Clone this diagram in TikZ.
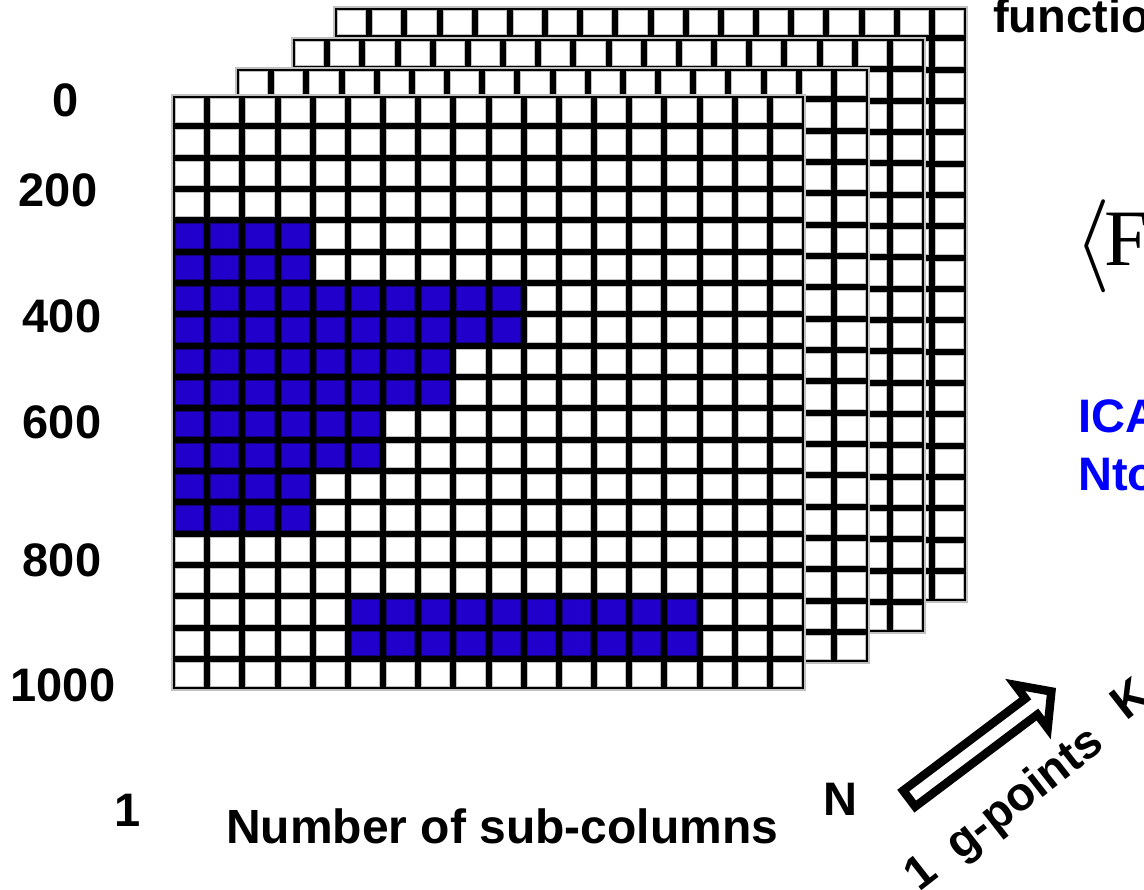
\documentclass[tikz,border=0pt]{standalone}
\usepackage{fix-cm}
\usepackage{fontspec}
\setmainfont{Liberation Sans}
\newfontfamily\serifF{Liberation Serif}
\usetikzlibrary{positioning}
\definecolor{cellBlue}{HTML}{2200CC}
\definecolor{textBlue}{HTML}{0000FF}
\definecolor{frameGray}{HTML}{C0C0C0}

\tikzset{
  whitecell/.style={fill=white, draw=frameGray, line width=0.8pt},
  bluecell/.style={fill=cellBlue, draw=cellBlue!60!black, line width=0.8pt},
  sheetframe/.style={draw=frameGray, line width=2.5pt},
  axislabel/.style={font=\fontsize{47}{50}\selectfont\bfseries, inner sep=0pt},
  bluelabel/.style={axislabel, text=textBlue},
  slantlabel/.style={axislabel, font=\fontsize{47}{50}\selectfont\bfseries, rotate=38, anchor=base west},
  hollowarrow/.style={draw=black, fill=white, line width=8.5pt, miter limit=10}
}

\begin{document}
\begin{tikzpicture}[x=1pt, y=-1pt]
  \useasboundingbox (0,0) rectangle (1144,890);
  \clip (0,0) rectangle (1144,890);
  \def\cw{35.17}
  \def\ch{31.32}
  % stacked sheets, back to front
  \foreach \sx/\sy in {334/7, 292/38, 236/68, 172/95} {
    \fill[black] (\sx,\sy) rectangle ++(633,595);
    \foreach \c in {0,...,17}
      \foreach \r in {0,...,18}
        \filldraw[whitecell] ({\sx+\c*\cw+3.5},{\sy+\r*\ch+3.5}) rectangle ++({\cw-7},{\ch-7});
    \draw[sheetframe] (\sx,\sy) rectangle ++(633,595);
  }
  % filled cells of the front sheet: row/first col/last col
  \foreach \r/\a/\b in {5/1/4, 6/1/4, 7/1/10, 8/1/10, 9/1/8, 10/1/8,
                        11/1/6, 12/1/6, 13/1/4, 14/1/4, 17/6/15, 18/6/15}
    \foreach \c in {\a,...,\b}
      \filldraw[bluecell] ({172+(\c-1)*\cw+3.5},{95+(\r-1)*\ch+3.5}) rectangle ++({\cw-7},{\ch-7});

  % axis labels
  \node[axislabel] (y0)    at (66,100) {0};
  \node[axislabel] (y200)  at (58,190) {200};
  \node[axislabel] (y400)  at (62,316) {400};
  \node[axislabel] (y600)  at (62,422) {600};
  \node[axislabel] (y800)  at (62,560) {800};
  \node[axislabel] (y1000) at (63,685) {1000};
  \node[axislabel, anchor=base] (col1) at (128,826) {1};
  \node[axislabel, font=\fontsize{48}{50}\selectfont\bfseries, anchor=base west] (xlabel) at (226,843) {Number of sub-columns};
  \node[axislabel] (nlabel) at (840,799) {N};

  % g-point direction
  \coordinate (atail) at (906,801);
  \begin{scope}[shift={(atail)}, rotate=37]
    \draw[hollowarrow] (4,-10) -- (157,-10) -- (157,-27) -- (182,0)
                       -- (157,27) -- (157,10) -- (4,10) -- cycle;
  \end{scope}
  \node[slantlabel] (gfirst)  at (919,893) {1};
  \node[slantlabel] (gpoints) at (960,862) {g-points};
  \node[slantlabel] (glast)   at (1126,722) {K};

  % right-hand texts
  \node[axislabel, anchor=base west] (funclabel) at (993,33) {functio};
  \node[inner sep=0pt, anchor=base west] (meanF) at (1074,270)
       {{\fontsize{93}{93}\selectfont$\langle$}\kern-6pt\raisebox{4pt}{\fontsize{80}{80}\selectfont\serifF F}};
  \node[bluelabel, anchor=base west] (icalabel) at (1078,433) {ICA};
  \node[bluelabel, below=24pt of icalabel.south west, anchor=north west] (ntolabel) {Nto};
\end{tikzpicture}
\end{document}
